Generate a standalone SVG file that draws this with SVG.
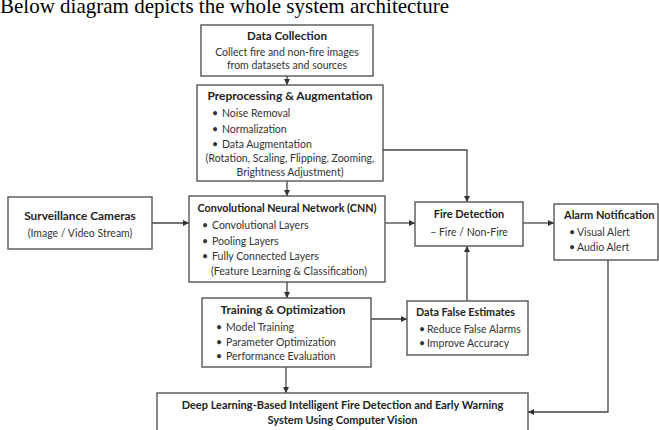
<svg xmlns="http://www.w3.org/2000/svg" width="659" height="430" viewBox="0 0 659 430">
<defs>
<marker id="ah" viewBox="0 0 10 10" refX="10" refY="5" markerWidth="6" markerHeight="6" orient="auto-start-reverse" markerUnits="userSpaceOnUse">
<path d="M0,0 L10,5 L0,10 z" fill="#333"/>
</marker>
<style>
.box{fill:#fff;stroke:#555;stroke-width:1.4}
.t{font-family:Lato,"Liberation Sans",sans-serif;font-weight:bold;font-size:11.3px;fill:#222}
.b{font-family:Lato,"Liberation Sans",sans-serif;font-size:10.5px;fill:#333}
.c{text-anchor:middle}
.ln{fill:none;stroke:#444;stroke-width:1.3}
.cap{font-family:"Liberation Serif","Times New Roman",serif;font-size:21px;fill:#000}
</style>
</defs>
<rect width="659" height="430" fill="#fff"/>
<text class="cap" x="0" y="13">Below diagram depicts the whole system architecture</text>

<g id="connectors">
<path class="ln" d="M287,76 V85" marker-end="url(#ah)"/>
<path class="ln" d="M287,181 V196" marker-end="url(#ah)"/>
<path class="ln" d="M383,150 H467 V202" marker-end="url(#ah)"/>
<path class="ln" d="M152,223 H189" marker-end="url(#ah)"/>
<path class="ln" d="M385,223 H415" marker-end="url(#ah)"/>
<path class="ln" d="M523,223 H554" marker-end="url(#ah)"/>
<path class="ln" d="M287,282 V298" marker-end="url(#ah)"/>
<path class="ln" d="M371,319 H407" marker-end="url(#ah)"/>
<path class="ln" d="M467,301 V246" marker-end="url(#ah)"/>
<path class="ln" d="M286,367 V393" marker-end="url(#ah)"/>
<path class="ln" d="M608,260 V412 H528" marker-end="url(#ah)"/>
</g>

<g id="data-collection">
<rect class="box" x="201" y="25" width="172" height="51"/>
<text class="t c" x="287" y="40" style="font-size:11.6px">Data Collection</text>
<text class="b c" x="287" y="56">Collect fire and non-fire images</text>
<text class="b c" x="287" y="69">from datasets and sources</text>
</g>

<g id="preprocessing">
<rect class="box" x="197" y="85" width="186" height="96"/>
<text class="t c" x="290" y="100" style="font-size:12px">Preprocessing &amp; Augmentation</text>
<text class="b" x="212" y="117">•</text><text class="b" x="222" y="117">Noise Removal</text>
<text class="b" x="212" y="133">•</text><text class="b" x="222" y="133">Normalization</text>
<text class="b" x="212" y="148">•</text><text class="b" x="222" y="148">Data Augmentation</text>
<text class="b c" x="290" y="162">(Rotation, Scaling, Flipping, Zooming,</text>
<text class="b c" x="290" y="176">Brightness Adjustment)</text>
</g>

<g id="surveillance">
<rect class="box" x="8" y="197" width="144" height="52"/>
<text class="t c" x="80" y="220" style="font-size:11.8px">Surveillance Cameras</text>
<text class="b c" x="80" y="237">(Image / Video Stream)</text>
</g>

<g id="cnn">
<rect class="box" x="189" y="196" width="196" height="86"/>
<text class="t c" x="287" y="212" style="font-size:10.8px">Convolutional Neural Network (CNN)</text>
<text class="b" x="202" y="229">•</text><text class="b" x="212" y="229">Convolutional Layers</text>
<text class="b" x="202" y="245">•</text><text class="b" x="212" y="245">Pooling Layers</text>
<text class="b" x="202" y="260">•</text><text class="b" x="212" y="260">Fully Connected Layers</text>
<text class="b" x="211" y="275">(Feature Learning &amp; Classification)</text>
</g>

<g id="fire-detection">
<rect class="box" x="415" y="202" width="108" height="44"/>
<text class="t c" x="469" y="218" style="font-size:11px">Fire Detection</text>
<text class="b c" x="469" y="236">– Fire / Non-Fire</text>
</g>

<g id="alarm">
<rect class="box" x="554" y="204" width="104" height="56"/>
<text class="t" x="564" y="219" style="font-size:11px">Alarm Notification</text>
<text class="b" x="569" y="236">•</text><text class="b" x="577" y="236">Visual Alert</text>
<text class="b" x="569" y="251">•</text><text class="b" x="577" y="251">Audio Alert</text>
</g>

<g id="training">
<rect class="box" x="202" y="298" width="169" height="69"/>
<text class="t c" x="283" y="314" style="font-size:11.8px">Training &amp; Optimization</text>
<text class="b" x="216" y="331">•</text><text class="b" x="226" y="331">Model Training</text>
<text class="b" x="216" y="346">•</text><text class="b" x="226" y="346">Parameter Optimization</text>
<text class="b" x="216" y="360">•</text><text class="b" x="226" y="360">Performance Evaluation</text>
</g>

<g id="data-false">
<rect class="box" x="407" y="301" width="121" height="54"/>
<text class="t" x="416" y="316" style="font-size:10.8px">Data False Estimates</text>
<text class="b" x="419" y="333">•</text><text class="b" x="427" y="333">Reduce False Alarms</text>
<text class="b" x="419" y="347">•</text><text class="b" x="427" y="347">Improve Accuracy</text>
</g>

<g id="system">
<rect class="box" x="157" y="393" width="371" height="45"/>
<text class="t c" x="342.5" y="409" style="font-size:11px">Deep Learning-Based Intelligent Fire Detection and Early Warning</text>
<text class="t c" x="342.5" y="424" style="font-size:11px">System Using Computer Vision</text>
</g>
</svg>
